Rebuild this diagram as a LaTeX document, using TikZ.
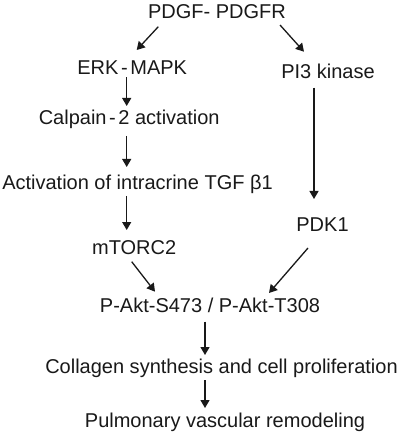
\documentclass[tikz,border=0pt]{standalone}
\usepackage{fontspec}
\setmainfont{Liberation Sans}
\usetikzlibrary{arrows.meta,calc}
\tikzset{
  lbl/.style={anchor=base, inner sep=0pt, font=\fontsize{20bp}{24bp}\selectfont, text=black!90},
  arr/.style={line width=1.3bp, draw=black!90, -{Triangle[length=8bp,width=9bp]}}
}
\newcommand{\hy}{\hspace{2.6bp}-\hspace{2.6bp}}
\begin{document}
\begin{tikzpicture}[x=1bp,y=-1bp]
\useasboundingbox[fill=white] (0,0) rectangle (407,433);
\node[lbl] (pdgf) at (217,18.5) {PDGF- PDGFR};
\node[lbl] (erk)  at (132.2,75) {ERK\hy MAPK};
\node[lbl] (pi3)  at (328,78.5) {PI3 kinase};
\node[lbl] (calp) at (129.2,125) {Calpain\hy 2 activation};
\node[lbl] (act)  at (137.5,190) {Activation of intracrine TGF β1};
\node[lbl] (mtor) at (134.2,254) {mTORC2};
\node[lbl] (pdk)  at (322.5,231.7) {PDK1};
\node[lbl] (pakt) at (210,312.5) {P-Akt-S473 / P-Akt-T308};
\node[lbl] (coll) at (221.5,373) {Collagen synthesis and cell proliferation};
\node[lbl] (pulm) at (225,427) {Pulmonary vascular remodeling};

\draw[arr] ($(pdgf.base)+(-58.7,8.2)$) -- ($(erk.base)+(4.5,-25)$);
\draw[arr] ($(pdgf.base)+(63,6.5)$) -- ($(pi3.base)+(-24,-26.8)$);
\draw[arr] ($(erk.base)+(-5.5,2.3)$) -- ($(calp.base)+(-2.5,-19)$);
\draw[arr] ($(calp.base)+(-2.5,11)$) -- ($(act.base)+(-10.8,-23)$);
\draw[arr] ($(act.base)+(-10.8,6)$) -- ($(mtor.base)+(-7.5,-24)$);
\draw[arr] ($(pi3.base)+(-14,9.2)$) -- ($(pdk.base)+(-8.5,-32.7)$);
\draw[arr] ($(mtor.base)+(-2.5,7.7)$) -- ($(pakt.base)+(-55,-20.8)$);
\draw[arr] ($(pdk.base)+(-14.5,16.3)$) -- ($(pakt.base)+(59,-19.5)$);
\draw[arr] ($(pakt.base)+(-5,9.2)$) -- ($(coll.base)+(-16.5,-18)$);
\draw[arr] ($(coll.base)+(-16.5,7)$) -- ($(pulm.base)+(-20,-19)$);
\end{tikzpicture}
\end{document}
